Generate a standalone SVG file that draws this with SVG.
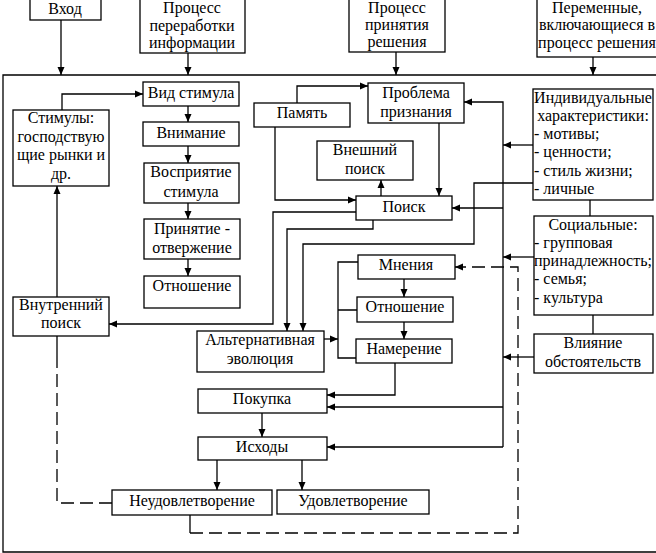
<svg xmlns="http://www.w3.org/2000/svg" width="656" height="553" viewBox="0 0 656 553">
<style>
.b{fill:#fff;stroke:#000;stroke-width:1.3}
text{font-family:"Liberation Serif","Times New Roman",serif;font-size:16px;fill:#000}
.c{text-anchor:middle}
.l{fill:none;stroke:#000;stroke-width:1.3}
.d{fill:none;stroke:#000;stroke-width:1.3;stroke-dasharray:13 6}
</style>
<defs>
<marker id="a" markerWidth="8" markerHeight="8" refX="8" refY="4" orient="auto" markerUnits="userSpaceOnUse">
<path d="M0,0.5 L8,4 L0,7.5 Z" fill="#000"/>
</marker>
</defs>
<rect x="0" y="0" width="656" height="553" fill="#fff"/>
<g id="frame"><path class="l" d="M660,75 H3 V552 H660"/></g>

<g id="vhod"><rect class="b" x="30" y="-2" width="71" height="22"/><text class="c" x="65" y="14">Вход</text></g>
<g id="pererabotka"><rect class="b" x="140" y="-2" width="105" height="55"/><text class="c" x="192" y="13">Процесс</text><text class="c" x="192" y="31">переработки</text><text class="c" x="192" y="48">информации</text></g>
<g id="prinyatie"><rect class="b" x="349" y="-2" width="96" height="54"/><text class="c" x="397" y="13">Процесс</text><text class="c" x="397" y="30">принятия</text><text class="c" x="397" y="47">решения</text></g>
<g id="peremennye"><rect class="b" x="537" y="-2" width="125" height="59"/><text class="c" x="597" y="13">Переменные,</text><text class="c" x="597" y="30">включающиеся в</text><text class="c" x="597" y="48">процесс решения</text></g>

<g id="stimuly"><rect class="b" x="13" y="110" width="96" height="76"/><text class="c" x="61" y="123">Стимулы:</text><text class="c" x="61" y="142">господствую</text><text class="c" x="61" y="160">щие рынки и</text><text class="c" x="61" y="179">др.</text></g>
<g id="vid"><rect class="b" x="143" y="82" width="96" height="24"/><text class="c" x="191" y="98">Вид стимула</text></g>
<g id="vnimanie"><rect class="b" x="143" y="122" width="96" height="24"/><text class="c" x="191" y="138">Внимание</text></g>
<g id="vospriyatie"><rect class="b" x="144" y="163" width="95" height="40"/><text class="c" x="191" y="177">Восприятие</text><text class="c" x="191" y="197">стимула</text></g>
<g id="prin-otv"><rect class="b" x="144" y="219" width="96" height="40"/><text class="c" x="192" y="234">Принятие -</text><text class="c" x="192" y="253">отвержение</text></g>
<g id="otnoshenie1"><rect class="b" x="144" y="276" width="96" height="32"/><text class="c" x="192" y="291">Отношение</text></g>
<g id="vnutr"><rect class="b" x="13" y="297" width="96" height="39"/><text class="c" x="61" y="310">Внутренний</text><text class="c" x="61" y="328">поиск</text></g>

<g id="pamyat"><rect class="b" x="254" y="103" width="96" height="24"/><text class="c" x="302" y="118">Память</text></g>
<g id="problema"><rect class="b" x="368" y="83" width="96" height="40"/><text class="c" x="416" y="98">Проблема</text><text class="c" x="416" y="117">признания</text></g>
<g id="vneshn"><rect class="b" x="317" y="141" width="96" height="39"/><text class="c" x="365" y="155">Внешний</text><text class="c" x="365" y="174">поиск</text></g>
<g id="poisk"><rect class="b" x="356" y="196" width="96" height="24"/><text class="c" x="404" y="212">Поиск</text></g>

<g id="individ"><rect class="b" x="533" y="89" width="120" height="111"/><text class="c" x="593" y="103">Индивидуальные</text><text class="c" x="593" y="121">характеристики:</text><text x="534" y="139">- мотивы;</text><text x="534" y="157">- ценности;</text><text x="534" y="176">- стиль жизни;</text><text x="534" y="194">- личные</text></g>
<g id="social"><rect class="b" x="534" y="216" width="119" height="99"/><text class="c" x="593" y="230">Социальные:</text><text x="534" y="248">- групповая</text><text x="534" y="266">принадлежность;</text><text x="534" y="284">- семья;</text><text x="534" y="303">- культура</text></g>
<g id="vliyanie"><rect class="b" x="534" y="334" width="119" height="39"/><text class="c" x="593" y="348">Влияние</text><text class="c" x="593" y="367">обстоятельств</text></g>

<g id="mneniya"><rect class="b" x="358" y="255" width="97" height="24"/><text class="c" x="406" y="270">Мнения</text></g>
<g id="otnoshenie2"><rect class="b" x="357" y="297" width="96" height="25"/><text class="c" x="405" y="312">Отношение</text></g>
<g id="namerenie"><rect class="b" x="356" y="339" width="96" height="24"/><text class="c" x="404" y="354">Намерение</text></g>
<g id="alt"><rect class="b" x="197" y="331" width="127" height="41"/><text class="c" x="260" y="345">Альтернативная</text><text class="c" x="260" y="364">эволюция</text></g>
<g id="pokupka"><rect class="b" x="198" y="389" width="129" height="24"/><text class="c" x="262" y="404">Покупка</text></g>
<g id="ishody"><rect class="b" x="198" y="437" width="129" height="23"/><text class="c" x="262" y="452">Исходы</text></g>
<g id="neudovl"><rect class="b" x="112" y="490" width="160" height="25"/><text class="c" x="192" y="506">Неудовлетворение</text></g>
<g id="udovl"><rect class="b" x="277" y="490" width="152" height="24"/><text class="c" x="353" y="506">Удовлетворение</text></g>

<g id="connectors">
<path class="l" marker-end="url(#a)" d="M61,20 V75"/>
<path class="l" marker-end="url(#a)" d="M188,53 V75"/>
<path class="l" marker-end="url(#a)" d="M396,52 V75"/>
<path class="l" marker-end="url(#a)" d="M593,57 V75"/>
<path class="l" marker-end="url(#a)" d="M62,110 V94 H143"/>
<path class="l" marker-end="url(#a)" d="M188,106 V122"/>
<path class="l" marker-end="url(#a)" d="M188,146 V163"/>
<path class="l" marker-end="url(#a)" d="M188,203 V219"/>
<path class="l" marker-end="url(#a)" d="M188,259 V276"/>
<path class="l" marker-end="url(#a)" d="M57,297 V186"/>
<path class="l" marker-end="url(#a)" d="M297,103 V86 H368"/>
<path class="l" marker-end="url(#a)" d="M275,127 V200 H356"/>
<path class="l" marker-end="url(#a)" d="M439,123 V196"/>
<path class="l" marker-end="url(#a)" d="M381,196 V180"/>
<path class="l" marker-end="url(#a)" d="M356,212 H273 V324 H109"/>
<path class="l" marker-end="url(#a)" d="M373,220 V229 H287 V331"/>
<path class="l" marker-end="url(#a)" d="M533,183 H474 V244 H303 V331"/>
<path class="l" marker-end="url(#a)" d="M503,447 V102 H464"/>
<path class="l" marker-end="url(#a)" d="M503,208 H452"/>
<path class="l" marker-end="url(#a)" d="M503,407 H327"/>
<path class="l" marker-end="url(#a)" d="M503,447 H327"/>
<path class="l" marker-end="url(#a)" d="M533,145 H503"/>
<path class="l" marker-end="url(#a)" d="M534,257 H503"/>
<path class="l" marker-end="url(#a)" d="M534,357 H503"/>
<path class="l" d="M590,200 V216"/>
<path class="l" d="M593,315 V334"/>
<path class="l" marker-end="url(#a)" d="M324,339 H338"/>
<path class="l" d="M358,262 H338 V358 H356 M338,310 H357"/>
<path class="l" marker-end="url(#a)" d="M404,279 V297"/>
<path class="l" marker-end="url(#a)" d="M404,322 V339"/>
<path class="l" marker-end="url(#a)" d="M395,363 V395 H327"/>
<path class="l" marker-end="url(#a)" d="M262,413 V437"/>
<path class="l" marker-end="url(#a)" d="M217,460 V490"/>
<path class="l" marker-end="url(#a)" d="M302,460 V490"/>
<path class="l" d="M190,515 V533"/>
<path class="d" marker-end="url(#a)" d="M190,533 H518 V267 H455"/>
<path class="l" d="M57,336 V356"/>
<path class="d" d="M112,503 H57 V356"/>
</g>
</svg>
